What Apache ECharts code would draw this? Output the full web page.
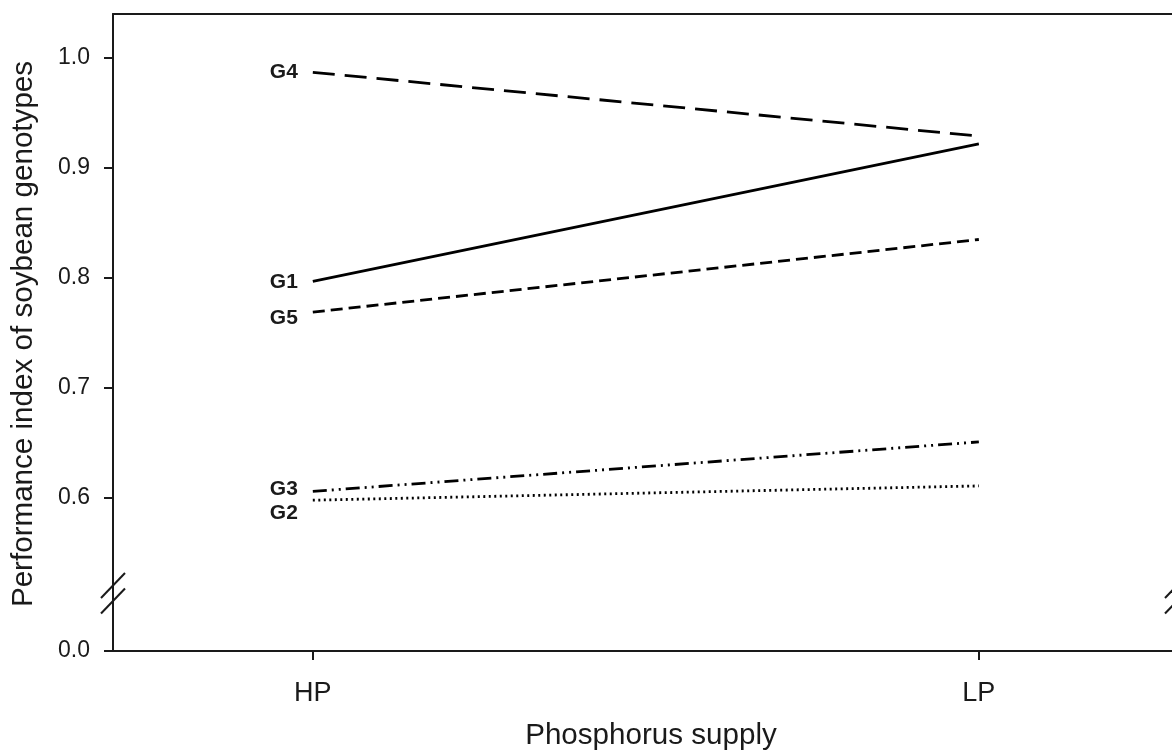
<!DOCTYPE html>
<html>
<head>
<meta charset="utf-8">
<title>Performance index of soybean genotypes</title>
<script src="https://cdn.jsdelivr.net/npm/echarts@6/dist/echarts.min.js"></script>
<style>
  html, body { margin: 0; padding: 0; background: #ffffff; }
  #chart { width: 1172px; height: 753px; }
</style>
</head>
<body>
<div id="chart"></div>
<script>
// Phosphorus supply levels (x categories)
const categories = ['HP', 'LP'];
// Tick values on the upper (broken) part of the y axis
const yTicks = [0.6, 0.7, 0.8, 0.9, 1.0];
// Tick value on the lower part of the y axis
const yTicksLow = [0.0];

// Performance index per genotype, at HP and LP
const genotypeNames = ['G1', 'G2', 'G3', 'G4', 'G5'];
const g1 = [0.797, 0.922];
const g2 = [0.598, 0.611];
const g3 = [0.606, 0.651];
const g4 = [0.987, 0.929];
const g5 = [0.769, 0.835];
const genotypeValues = [g1, g2, g3, g4, g5];

const FONT = "'Liberation Sans', Arial, Helvetica, sans-serif";
const INK = '#1a1a1a';

// Layout of the two stacked grids that together form the broken y axis
const PLOT_LEFT = 113;
const UPPER_TOP = 14;
const UPPER_HEIGHT = 572;
const LOWER_HEIGHT = 65;
const LOWER_TOP = UPPER_TOP + UPPER_HEIGHT;
// x range: the frame runs on past the right edge of the canvas
const X_MIN = -0.3, X_MAX = 1.29;

// Line style and label placement for each genotype
const seriesStyle = {
  G1: { dash: 'solid',                 labelDy: 1 },
  G2: { dash: [2, 3.5],                labelDy: 13 },
  G3: { dash: [14, 5, 2, 5, 2, 5],     labelDy: -2 },
  G4: { dash: [22, 10],                labelDy: 0 },
  G5: { dash: [12, 6],                 labelDy: 6 }
};

const series = genotypeNames.map((name, i) => {
  const vals = genotypeValues[i];
  const st = seriesStyle[name];
  return {
    name: name,
    type: 'line',
    xAxisIndex: 0,
    yAxisIndex: 0,
    symbol: 'circle',
    symbolSize: 0,
    showSymbol: true,
    silent: true,
    animation: false,
    lineStyle: { color: '#000', width: 2.8, type: st.dash, cap: 'butt' },
    itemStyle: { color: '#000' },
    data: vals.map((v, j) => {
      const item = { value: [j, v] };
      if (j === 0) {
        item.label = {
          show: true,
          formatter: name,
          position: 'left',
          distance: 15,
          offset: [0, st.labelDy],
          fontFamily: FONT,
          fontWeight: 'bold',
          fontSize: 21,
          color: INK
        };
      }
      return item;
    })
  };
});

const chart = echarts.init(document.getElementById('chart'), null, { renderer: 'canvas' });

// Double-slash break marks across the left and right frame edges
function breakMarks(cx) {
  const cy1 = 585.5, cy2 = 601, hw = 12, hh = 12.5;
  return [cy1, cy2].map(cy => ({
    type: 'line',
    shape: { x1: cx - hw, y1: cy + hh, x2: cx + hw, y2: cy - hh },
    style: { stroke: INK, lineWidth: 2 },
    z: 100
  }));
}

chart.setOption({
  backgroundColor: '#ffffff',
  animation: false,
  grid: [
    { left: PLOT_LEFT, right: 0, top: UPPER_TOP, height: UPPER_HEIGHT, containLabel: false },
    { left: PLOT_LEFT, right: 0, top: LOWER_TOP, height: LOWER_HEIGHT, containLabel: false }
  ],
  xAxis: [
    {
      // frame top edge for the upper part
      gridIndex: 0, type: 'value', position: 'top', min: X_MIN, max: X_MAX,
      axisLine: { show: true, onZero: false, lineStyle: { color: INK, width: 2 } },
      axisTick: { show: false }, axisLabel: { show: false }, splitLine: { show: false }
    },
    {
      gridIndex: 1, type: 'value', position: 'bottom', min: X_MIN, max: X_MAX,
      name: 'Phosphorus supply',
      nameLocation: 'middle',
      nameGap: 70,
      nameTextStyle: { fontFamily: FONT, fontSize: 29.6, color: INK, padding: [0, 0, 0, 17] },
      axisLine: { show: true, onZero: false, lineStyle: { color: INK, width: 2 } },
      axisTick: {
        show: true, inside: false, length: 9,
        customValues: categories.map((c, i) => i),
        lineStyle: { color: INK, width: 2 }
      },
      axisLabel: {
        show: true, margin: 29,
        customValues: categories.map((c, i) => i),
        formatter: v => categories[Math.round(v)] ?? '',
        fontFamily: FONT, fontSize: 27, color: INK
      },
      splitLine: { show: false }
    }
  ],
  yAxis: [
    {
      gridIndex: 0, type: 'value', min: 0.52, max: 1.04,
      axisLine: { show: true, onZero: false, lineStyle: { color: INK, width: 2 } },
      axisTick: {
        show: true, inside: false, length: 9,
        customValues: yTicks,
        lineStyle: { color: INK, width: 2 }
      },
      axisLabel: {
        show: true, margin: 23,
        customValues: yTicks,
        formatter: v => v.toFixed(1),
        fontFamily: FONT, fontSize: 23, color: INK
      },
      splitLine: { show: false }
    },
    {
      gridIndex: 1, type: 'value', min: 0, max: LOWER_HEIGHT / 1100,
      axisLine: { show: true, onZero: false, lineStyle: { color: INK, width: 2 } },
      axisTick: {
        show: true, inside: false, length: 9,
        customValues: yTicksLow,
        lineStyle: { color: INK, width: 2 }
      },
      axisLabel: {
        show: true, margin: 23,
        customValues: yTicksLow,
        formatter: v => v.toFixed(1),
        fontFamily: FONT, fontSize: 23, color: INK
      },
      splitLine: { show: false }
    }
  ],
  graphic: [
    {
      type: 'text',
      x: 24, y: 334,
      rotation: Math.PI / 2,
      style: {
        text: 'Performance index of soybean genotypes',
        font: "29.6px 'Liberation Sans', Arial, Helvetica, sans-serif",
        fill: INK,
        align: 'center',
        verticalAlign: 'middle'
      }
    },
    ...breakMarks(PLOT_LEFT),
    ...breakMarks(1177)
  ],
  series: series
});
</script>
</body>
</html>
